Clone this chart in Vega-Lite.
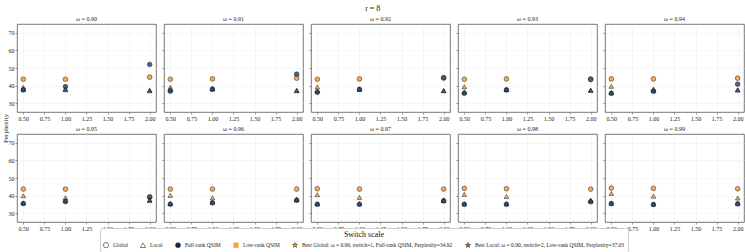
{
  "$schema": "https://vega.github.io/schema/vega-lite/v6.json",
  "padding": {"left": 1, "top": 4, "right": 2, "bottom": 1},
  "title": {"text": "r = 8", "fontSize": 8, "font": "Liberation Serif", "fontWeight": "normal", "anchor": "middle", "offset": 3, "color": "#222"},
  "config": {
    "font": "Liberation Serif",
    "view": {"continuousWidth": 139, "continuousHeight": 88, "stroke": "#555", "strokeWidth": 0.8},
    "axis": {"labelFont": "Liberation Serif", "labelFontSize": 6, "labelColor": "#222", "tickSize": 2, "tickColor": "#333", "tickWidth": 0.5, "labelPadding": 1, "domain": false, "gridColor": "#ececec", "gridWidth": 0.5, "titleFont": "Liberation Serif", "titleFontWeight": "normal", "titleColor": "#111"},
    "title": {"font": "Liberation Serif", "fontSize": 6, "fontWeight": "normal", "offset": 2, "color": "#222"},
    "legend": {"labelFont": "Liberation Serif", "titleFont": "Liberation Serif"},
    "point": {"filled": true, "size": 22, "strokeWidth": 0.5, "opacity": 0.9}
  },
  "data": {"values": [
    {"omega":"0.90","switch":0.5,"method":"Global","qsim":"Low-rank QSIM","ppl":43.6},
    {"omega":"0.90","switch":0.5,"method":"Local","qsim":"Low-rank QSIM","ppl":39.0},
    {"omega":"0.90","switch":0.5,"method":"Global","qsim":"Full-rank QSIM","ppl":37.5},
    {"omega":"0.90","switch":0.5,"method":"Local","qsim":"Full-rank QSIM","ppl":38.0},
    {"omega":"0.90","switch":1,"method":"Global","qsim":"Low-rank QSIM","ppl":43.6},
    {"omega":"0.90","switch":1,"method":"Local","qsim":"Low-rank QSIM","ppl":37.7},
    {"omega":"0.90","switch":1,"method":"Global","qsim":"Full-rank QSIM","ppl":39.4},
    {"omega":"0.90","switch":1,"method":"Local","qsim":"Full-rank QSIM","ppl":38.0},
    {"omega":"0.90","switch":2,"method":"Global","qsim":"Low-rank QSIM","ppl":44.8},
    {"omega":"0.90","switch":2,"method":"Local","qsim":"Low-rank QSIM","ppl":37.03},
    {"omega":"0.90","switch":2,"method":"Global","qsim":"Full-rank QSIM","ppl":52.0},
    {"omega":"0.90","switch":2,"method":"Local","qsim":"Full-rank QSIM","ppl":37.4},
    {"omega":"0.91","switch":0.5,"method":"Global","qsim":"Low-rank QSIM","ppl":43.6},
    {"omega":"0.91","switch":0.5,"method":"Local","qsim":"Low-rank QSIM","ppl":39.0},
    {"omega":"0.91","switch":0.5,"method":"Global","qsim":"Full-rank QSIM","ppl":36.8},
    {"omega":"0.91","switch":0.5,"method":"Local","qsim":"Full-rank QSIM","ppl":37.8},
    {"omega":"0.91","switch":1,"method":"Global","qsim":"Low-rank QSIM","ppl":43.8},
    {"omega":"0.91","switch":1,"method":"Local","qsim":"Low-rank QSIM","ppl":38.1},
    {"omega":"0.91","switch":1,"method":"Global","qsim":"Full-rank QSIM","ppl":38.0},
    {"omega":"0.91","switch":1,"method":"Local","qsim":"Full-rank QSIM","ppl":38.2},
    {"omega":"0.91","switch":2,"method":"Global","qsim":"Low-rank QSIM","ppl":44.2},
    {"omega":"0.91","switch":2,"method":"Local","qsim":"Low-rank QSIM","ppl":37.1},
    {"omega":"0.91","switch":2,"method":"Global","qsim":"Full-rank QSIM","ppl":46.5},
    {"omega":"0.91","switch":2,"method":"Local","qsim":"Full-rank QSIM","ppl":37.3},
    {"omega":"0.92","switch":0.5,"method":"Global","qsim":"Low-rank QSIM","ppl":43.6},
    {"omega":"0.92","switch":0.5,"method":"Local","qsim":"Low-rank QSIM","ppl":39.2},
    {"omega":"0.92","switch":0.5,"method":"Global","qsim":"Full-rank QSIM","ppl":36.2},
    {"omega":"0.92","switch":0.5,"method":"Local","qsim":"Full-rank QSIM","ppl":37.0},
    {"omega":"0.92","switch":1,"method":"Global","qsim":"Low-rank QSIM","ppl":43.8},
    {"omega":"0.92","switch":1,"method":"Local","qsim":"Low-rank QSIM","ppl":37.9},
    {"omega":"0.92","switch":1,"method":"Global","qsim":"Full-rank QSIM","ppl":37.9},
    {"omega":"0.92","switch":1,"method":"Local","qsim":"Full-rank QSIM","ppl":38.0},
    {"omega":"0.92","switch":2,"method":"Global","qsim":"Low-rank QSIM","ppl":44.3},
    {"omega":"0.92","switch":2,"method":"Local","qsim":"Low-rank QSIM","ppl":37.1},
    {"omega":"0.92","switch":2,"method":"Global","qsim":"Full-rank QSIM","ppl":44.5},
    {"omega":"0.92","switch":2,"method":"Local","qsim":"Full-rank QSIM","ppl":37.2},
    {"omega":"0.93","switch":0.5,"method":"Global","qsim":"Low-rank QSIM","ppl":43.6},
    {"omega":"0.93","switch":0.5,"method":"Local","qsim":"Low-rank QSIM","ppl":39.4},
    {"omega":"0.93","switch":0.5,"method":"Global","qsim":"Full-rank QSIM","ppl":35.6},
    {"omega":"0.93","switch":0.5,"method":"Local","qsim":"Full-rank QSIM","ppl":36.5},
    {"omega":"0.93","switch":1,"method":"Global","qsim":"Low-rank QSIM","ppl":43.8},
    {"omega":"0.93","switch":1,"method":"Local","qsim":"Low-rank QSIM","ppl":37.7},
    {"omega":"0.93","switch":1,"method":"Global","qsim":"Full-rank QSIM","ppl":37.6},
    {"omega":"0.93","switch":1,"method":"Local","qsim":"Full-rank QSIM","ppl":37.8},
    {"omega":"0.93","switch":2,"method":"Global","qsim":"Low-rank QSIM","ppl":43.8},
    {"omega":"0.93","switch":2,"method":"Local","qsim":"Low-rank QSIM","ppl":37.3},
    {"omega":"0.93","switch":2,"method":"Global","qsim":"Full-rank QSIM","ppl":43.4},
    {"omega":"0.93","switch":2,"method":"Local","qsim":"Full-rank QSIM","ppl":37.4},
    {"omega":"0.94","switch":0.5,"method":"Global","qsim":"Low-rank QSIM","ppl":43.8},
    {"omega":"0.94","switch":0.5,"method":"Local","qsim":"Low-rank QSIM","ppl":39.6},
    {"omega":"0.94","switch":0.5,"method":"Global","qsim":"Full-rank QSIM","ppl":35.6},
    {"omega":"0.94","switch":0.5,"method":"Local","qsim":"Full-rank QSIM","ppl":36.0},
    {"omega":"0.94","switch":1,"method":"Global","qsim":"Low-rank QSIM","ppl":43.8},
    {"omega":"0.94","switch":1,"method":"Local","qsim":"Low-rank QSIM","ppl":38.1},
    {"omega":"0.94","switch":1,"method":"Global","qsim":"Full-rank QSIM","ppl":36.8},
    {"omega":"0.94","switch":1,"method":"Local","qsim":"Full-rank QSIM","ppl":37.2},
    {"omega":"0.94","switch":2,"method":"Global","qsim":"Low-rank QSIM","ppl":44.2},
    {"omega":"0.94","switch":2,"method":"Local","qsim":"Low-rank QSIM","ppl":37.5},
    {"omega":"0.94","switch":2,"method":"Global","qsim":"Full-rank QSIM","ppl":40.8},
    {"omega":"0.94","switch":2,"method":"Local","qsim":"Full-rank QSIM","ppl":37.6},
    {"omega":"0.95","switch":0.5,"method":"Global","qsim":"Low-rank QSIM","ppl":43.7},
    {"omega":"0.95","switch":0.5,"method":"Local","qsim":"Low-rank QSIM","ppl":39.9},
    {"omega":"0.95","switch":0.5,"method":"Global","qsim":"Full-rank QSIM","ppl":35.5},
    {"omega":"0.95","switch":0.5,"method":"Local","qsim":"Full-rank QSIM","ppl":35.8},
    {"omega":"0.95","switch":1,"method":"Global","qsim":"Low-rank QSIM","ppl":43.7},
    {"omega":"0.95","switch":1,"method":"Local","qsim":"Low-rank QSIM","ppl":38.8},
    {"omega":"0.95","switch":1,"method":"Global","qsim":"Full-rank QSIM","ppl":36.6},
    {"omega":"0.95","switch":1,"method":"Local","qsim":"Full-rank QSIM","ppl":37.2},
    {"omega":"0.95","switch":2,"method":"Global","qsim":"Low-rank QSIM","ppl":39.0},
    {"omega":"0.95","switch":2,"method":"Local","qsim":"Low-rank QSIM","ppl":37.2},
    {"omega":"0.95","switch":2,"method":"Global","qsim":"Full-rank QSIM","ppl":39.3},
    {"omega":"0.95","switch":2,"method":"Local","qsim":"Full-rank QSIM","ppl":37.5},
    {"omega":"0.96","switch":0.5,"method":"Global","qsim":"Low-rank QSIM","ppl":43.7},
    {"omega":"0.96","switch":0.5,"method":"Local","qsim":"Low-rank QSIM","ppl":40.1},
    {"omega":"0.96","switch":0.5,"method":"Global","qsim":"Full-rank QSIM","ppl":35.1},
    {"omega":"0.96","switch":0.5,"method":"Local","qsim":"Full-rank QSIM","ppl":35.5},
    {"omega":"0.96","switch":1,"method":"Global","qsim":"Low-rank QSIM","ppl":43.7},
    {"omega":"0.96","switch":1,"method":"Local","qsim":"Low-rank QSIM","ppl":38.8},
    {"omega":"0.96","switch":1,"method":"Global","qsim":"Full-rank QSIM","ppl":35.9},
    {"omega":"0.96","switch":1,"method":"Local","qsim":"Full-rank QSIM","ppl":36.3},
    {"omega":"0.96","switch":2,"method":"Global","qsim":"Low-rank QSIM","ppl":43.7},
    {"omega":"0.96","switch":2,"method":"Local","qsim":"Low-rank QSIM","ppl":37.6},
    {"omega":"0.96","switch":2,"method":"Global","qsim":"Full-rank QSIM","ppl":37.4},
    {"omega":"0.96","switch":2,"method":"Local","qsim":"Full-rank QSIM","ppl":37.8},
    {"omega":"0.97","switch":0.5,"method":"Global","qsim":"Low-rank QSIM","ppl":43.9},
    {"omega":"0.97","switch":0.5,"method":"Local","qsim":"Low-rank QSIM","ppl":40.5},
    {"omega":"0.97","switch":0.5,"method":"Global","qsim":"Full-rank QSIM","ppl":35.1},
    {"omega":"0.97","switch":0.5,"method":"Local","qsim":"Full-rank QSIM","ppl":35.3},
    {"omega":"0.97","switch":1,"method":"Global","qsim":"Low-rank QSIM","ppl":43.7},
    {"omega":"0.97","switch":1,"method":"Local","qsim":"Low-rank QSIM","ppl":39.0},
    {"omega":"0.97","switch":1,"method":"Global","qsim":"Full-rank QSIM","ppl":35.1},
    {"omega":"0.97","switch":1,"method":"Local","qsim":"Full-rank QSIM","ppl":35.4},
    {"omega":"0.97","switch":2,"method":"Global","qsim":"Low-rank QSIM","ppl":43.7},
    {"omega":"0.97","switch":2,"method":"Local","qsim":"Low-rank QSIM","ppl":37.6},
    {"omega":"0.97","switch":2,"method":"Global","qsim":"Full-rank QSIM","ppl":37.0},
    {"omega":"0.97","switch":2,"method":"Local","qsim":"Full-rank QSIM","ppl":37.2},
    {"omega":"0.98","switch":0.5,"method":"Global","qsim":"Low-rank QSIM","ppl":44.1},
    {"omega":"0.98","switch":0.5,"method":"Local","qsim":"Low-rank QSIM","ppl":40.7},
    {"omega":"0.98","switch":0.5,"method":"Global","qsim":"Full-rank QSIM","ppl":35.1},
    {"omega":"0.98","switch":0.5,"method":"Local","qsim":"Full-rank QSIM","ppl":35.3},
    {"omega":"0.98","switch":1,"method":"Global","qsim":"Low-rank QSIM","ppl":43.9},
    {"omega":"0.98","switch":1,"method":"Local","qsim":"Low-rank QSIM","ppl":39.5},
    {"omega":"0.98","switch":1,"method":"Global","qsim":"Full-rank QSIM","ppl":35.1},
    {"omega":"0.98","switch":1,"method":"Local","qsim":"Full-rank QSIM","ppl":35.3},
    {"omega":"0.98","switch":2,"method":"Global","qsim":"Low-rank QSIM","ppl":43.7},
    {"omega":"0.98","switch":2,"method":"Local","qsim":"Low-rank QSIM","ppl":37.4},
    {"omega":"0.98","switch":2,"method":"Global","qsim":"Full-rank QSIM","ppl":36.5},
    {"omega":"0.98","switch":2,"method":"Local","qsim":"Full-rank QSIM","ppl":37.0},
    {"omega":"0.99","switch":0.5,"method":"Global","qsim":"Low-rank QSIM","ppl":44.3},
    {"omega":"0.99","switch":0.5,"method":"Local","qsim":"Low-rank QSIM","ppl":41.2},
    {"omega":"0.99","switch":0.5,"method":"Global","qsim":"Full-rank QSIM","ppl":35.5},
    {"omega":"0.99","switch":0.5,"method":"Local","qsim":"Full-rank QSIM","ppl":35.6},
    {"omega":"0.99","switch":1,"method":"Global","qsim":"Low-rank QSIM","ppl":44.1},
    {"omega":"0.99","switch":1,"method":"Local","qsim":"Low-rank QSIM","ppl":39.7},
    {"omega":"0.99","switch":1,"method":"Global","qsim":"Full-rank QSIM","ppl":34.92},
    {"omega":"0.99","switch":1,"method":"Local","qsim":"Full-rank QSIM","ppl":35.2},
    {"omega":"0.99","switch":2,"method":"Global","qsim":"Low-rank QSIM","ppl":43.9},
    {"omega":"0.99","switch":2,"method":"Local","qsim":"Low-rank QSIM","ppl":38.6},
    {"omega":"0.99","switch":2,"method":"Global","qsim":"Full-rank QSIM","ppl":35.3},
    {"omega":"0.99","switch":2,"method":"Local","qsim":"Full-rank QSIM","ppl":35.6}
  ]},
  "columns": 5,
  "spacing": {"row": 22, "column": 8},
  "bounds": "flush",
  "concat": [
    {"title": "ω = 0.90", "transform": [{"filter": "datum.omega == '0.90'"}, {"calculate": "datum.method + '|' + datum.qsim", "as": "key"}], "mark": "point",
     "encoding": {
       "x": {"field": "switch", "type": "quantitative", "scale": {"domain": [0.425, 2.075], "nice": false, "zero": false}, "axis": {"values": [0.5, 0.75, 1, 1.25, 1.5, 1.75, 2], "format": ".2f", "title": null}},
       "y": {"field": "ppl", "type": "quantitative", "scale": {"domain": [25, 75], "nice": false, "zero": false}, "axis": {"values": [30, 40, 50, 60, 70], "title": "Perplexity", "titleFontSize": 7, "titleX": -8.5, "titleY": 104, "titleAlign": "center", "titleAngle": -90, "titleBaseline": "bottom"}},
       "shape": {"field": "key", "type": "nominal",
         "scale": {"domain": ["Global", "Local", "Full-rank QSIM", "Low-rank QSIM", "Best Global: ω = 0.99, switch=1, Full-rank QSIM, Perplexity=34.92", "Best Local: ω = 0.90, switch=2, Low-rank QSIM, Perplexity=37.03", "Global|Full-rank QSIM", "Global|Low-rank QSIM", "Local|Full-rank QSIM", "Local|Low-rank QSIM"],
           "range": ["circle", "triangle-up", "circle", "square", "M0,-1L0.2245,-0.309L0.9511,-0.309L0.3633,0.118L0.5878,0.809L0,0.382L-0.5878,0.809L-0.3633,0.118L-0.9511,-0.309L-0.2245,-0.309Z", "M0,-1L0.2245,-0.309L0.9511,-0.309L0.3633,0.118L0.5878,0.809L0,0.382L-0.5878,0.809L-0.3633,0.118L-0.9511,-0.309L-0.2245,-0.309Z", "circle", "circle", "triangle-up", "triangle-up"]},
         "legend": {"title": "Switch scale", "titleOrient": "top", "titleAnchor": "middle", "titleFontSize": 8, "titleFontWeight": "normal", "titleColor": "#111", "titlePadding": 3, "values": ["Global", "Local", "Full-rank QSIM", "Low-rank QSIM", "Best Global: ω = 0.99, switch=1, Full-rank QSIM, Perplexity=34.92", "Best Local: ω = 0.90, switch=2, Low-rank QSIM, Perplexity=37.03"], "orient": "none", "legendX": 83, "legendY": 204, "direction": "horizontal", "columns": 6, "columnPadding": 11, "labelFontSize": 5.5, "labelOffset": 4, "symbolSize": 28, "symbolStrokeWidth": 0.6, "symbolOpacity": 1, "padding": 3, "strokeColor": "#cccccc", "fillColor": "white", "cornerRadius": 2, "labelColor": "#222"}},
       "fill": {"field": "key", "type": "nominal",
         "scale": {"domain": ["Global", "Local", "Full-rank QSIM", "Low-rank QSIM", "Best Global: ω = 0.99, switch=1, Full-rank QSIM, Perplexity=34.92", "Best Local: ω = 0.90, switch=2, Low-rank QSIM, Perplexity=37.03", "Global|Full-rank QSIM", "Global|Low-rank QSIM", "Local|Full-rank QSIM", "Local|Low-rank QSIM"],
           "range": ["#ffffff", "#ffffff", "#0d2a4e", "#f5a640", "#f6d80a", "#cf7a22", "#3a557c", "#f5a640", "#3a557c", "#f5a640"]}},
       "stroke": {"field": "key", "type": "nominal",
         "scale": {"domain": ["Global", "Local", "Full-rank QSIM", "Low-rank QSIM", "Best Global: ω = 0.99, switch=1, Full-rank QSIM, Perplexity=34.92", "Best Local: ω = 0.90, switch=2, Low-rank QSIM, Perplexity=37.03", "Global|Full-rank QSIM", "Global|Low-rank QSIM", "Local|Full-rank QSIM", "Local|Low-rank QSIM"],
           "range": ["#000000", "#000000", "transparent", "transparent", "#000000", "#000000", "#000000", "#000000", "#000000", "#000000"]}}
     }},
    {"title": "ω = 0.91", "transform": [{"filter": "datum.omega == '0.91'"}, {"calculate": "datum.method + '|' + datum.qsim", "as": "key"}], "mark": "point",
     "encoding": {
       "x": {"field": "switch", "type": "quantitative", "scale": {"domain": [0.425, 2.075], "nice": false, "zero": false}, "axis": {"values": [0.5, 0.75, 1, 1.25, 1.5, 1.75, 2], "format": ".2f", "title": null}},
       "y": {"field": "ppl", "type": "quantitative", "scale": {"domain": [25, 75], "nice": false, "zero": false}, "axis": {"values": [30, 40, 50, 60, 70], "title": null, "labels": false}},
       "shape": {"field": "key", "type": "nominal", "legend": null},
       "fill": {"field": "key", "type": "nominal", "legend": null},
       "stroke": {"field": "key", "type": "nominal", "legend": null}
     }},
    {"title": "ω = 0.92", "transform": [{"filter": "datum.omega == '0.92'"}, {"calculate": "datum.method + '|' + datum.qsim", "as": "key"}], "mark": "point",
     "encoding": {
       "x": {"field": "switch", "type": "quantitative", "scale": {"domain": [0.425, 2.075], "nice": false, "zero": false}, "axis": {"values": [0.5, 0.75, 1, 1.25, 1.5, 1.75, 2], "format": ".2f", "title": null}},
       "y": {"field": "ppl", "type": "quantitative", "scale": {"domain": [25, 75], "nice": false, "zero": false}, "axis": {"values": [30, 40, 50, 60, 70], "title": null, "labels": false}},
       "shape": {"field": "key", "type": "nominal", "legend": null},
       "fill": {"field": "key", "type": "nominal", "legend": null},
       "stroke": {"field": "key", "type": "nominal", "legend": null}
     }},
    {"title": "ω = 0.93", "transform": [{"filter": "datum.omega == '0.93'"}, {"calculate": "datum.method + '|' + datum.qsim", "as": "key"}], "mark": "point",
     "encoding": {
       "x": {"field": "switch", "type": "quantitative", "scale": {"domain": [0.425, 2.075], "nice": false, "zero": false}, "axis": {"values": [0.5, 0.75, 1, 1.25, 1.5, 1.75, 2], "format": ".2f", "title": null}},
       "y": {"field": "ppl", "type": "quantitative", "scale": {"domain": [25, 75], "nice": false, "zero": false}, "axis": {"values": [30, 40, 50, 60, 70], "title": null, "labels": false}},
       "shape": {"field": "key", "type": "nominal", "legend": null},
       "fill": {"field": "key", "type": "nominal", "legend": null},
       "stroke": {"field": "key", "type": "nominal", "legend": null}
     }},
    {"title": "ω = 0.94", "transform": [{"filter": "datum.omega == '0.94'"}, {"calculate": "datum.method + '|' + datum.qsim", "as": "key"}], "mark": "point",
     "encoding": {
       "x": {"field": "switch", "type": "quantitative", "scale": {"domain": [0.425, 2.075], "nice": false, "zero": false}, "axis": {"values": [0.5, 0.75, 1, 1.25, 1.5, 1.75, 2], "format": ".2f", "title": null}},
       "y": {"field": "ppl", "type": "quantitative", "scale": {"domain": [25, 75], "nice": false, "zero": false}, "axis": {"values": [30, 40, 50, 60, 70], "title": null, "labels": false}},
       "shape": {"field": "key", "type": "nominal", "legend": null},
       "fill": {"field": "key", "type": "nominal", "legend": null},
       "stroke": {"field": "key", "type": "nominal", "legend": null}
     }},
    {"title": "ω = 0.95", "transform": [{"filter": "datum.omega == '0.95'"}, {"calculate": "datum.method + '|' + datum.qsim", "as": "key"}], "mark": "point",
     "encoding": {
       "x": {"field": "switch", "type": "quantitative", "scale": {"domain": [0.425, 2.075], "nice": false, "zero": false}, "axis": {"values": [0.5, 0.75, 1, 1.25, 1.5, 1.75, 2], "format": ".2f", "title": null}},
       "y": {"field": "ppl", "type": "quantitative", "scale": {"domain": [25, 75], "nice": false, "zero": false}, "axis": {"values": [30, 40, 50, 60, 70], "title": null}},
       "shape": {"field": "key", "type": "nominal", "legend": null},
       "fill": {"field": "key", "type": "nominal", "legend": null},
       "stroke": {"field": "key", "type": "nominal", "legend": null}
     }},
    {"title": "ω = 0.96", "transform": [{"filter": "datum.omega == '0.96'"}, {"calculate": "datum.method + '|' + datum.qsim", "as": "key"}], "mark": "point",
     "encoding": {
       "x": {"field": "switch", "type": "quantitative", "scale": {"domain": [0.425, 2.075], "nice": false, "zero": false}, "axis": {"values": [0.5, 0.75, 1, 1.25, 1.5, 1.75, 2], "format": ".2f", "title": null}},
       "y": {"field": "ppl", "type": "quantitative", "scale": {"domain": [25, 75], "nice": false, "zero": false}, "axis": {"values": [30, 40, 50, 60, 70], "title": null, "labels": false}},
       "shape": {"field": "key", "type": "nominal", "legend": null},
       "fill": {"field": "key", "type": "nominal", "legend": null},
       "stroke": {"field": "key", "type": "nominal", "legend": null}
     }},
    {"title": "ω = 0.97", "transform": [{"filter": "datum.omega == '0.97'"}, {"calculate": "datum.method + '|' + datum.qsim", "as": "key"}], "mark": "point",
     "encoding": {
       "x": {"field": "switch", "type": "quantitative", "scale": {"domain": [0.425, 2.075], "nice": false, "zero": false}, "axis": {"values": [0.5, 0.75, 1, 1.25, 1.5, 1.75, 2], "format": ".2f", "title": null}},
       "y": {"field": "ppl", "type": "quantitative", "scale": {"domain": [25, 75], "nice": false, "zero": false}, "axis": {"values": [30, 40, 50, 60, 70], "title": null, "labels": false}},
       "shape": {"field": "key", "type": "nominal", "legend": null},
       "fill": {"field": "key", "type": "nominal", "legend": null},
       "stroke": {"field": "key", "type": "nominal", "legend": null}
     }},
    {"title": "ω = 0.98", "transform": [{"filter": "datum.omega == '0.98'"}, {"calculate": "datum.method + '|' + datum.qsim", "as": "key"}], "mark": "point",
     "encoding": {
       "x": {"field": "switch", "type": "quantitative", "scale": {"domain": [0.425, 2.075], "nice": false, "zero": false}, "axis": {"values": [0.5, 0.75, 1, 1.25, 1.5, 1.75, 2], "format": ".2f", "title": null}},
       "y": {"field": "ppl", "type": "quantitative", "scale": {"domain": [25, 75], "nice": false, "zero": false}, "axis": {"values": [30, 40, 50, 60, 70], "title": null, "labels": false}},
       "shape": {"field": "key", "type": "nominal", "legend": null},
       "fill": {"field": "key", "type": "nominal", "legend": null},
       "stroke": {"field": "key", "type": "nominal", "legend": null}
     }},
    {"title": "ω = 0.99", "transform": [{"filter": "datum.omega == '0.99'"}, {"calculate": "datum.method + '|' + datum.qsim", "as": "key"}], "mark": "point",
     "encoding": {
       "x": {"field": "switch", "type": "quantitative", "scale": {"domain": [0.425, 2.075], "nice": false, "zero": false}, "axis": {"values": [0.5, 0.75, 1, 1.25, 1.5, 1.75, 2], "format": ".2f", "title": null}},
       "y": {"field": "ppl", "type": "quantitative", "scale": {"domain": [25, 75], "nice": false, "zero": false}, "axis": {"values": [30, 40, 50, 60, 70], "title": null, "labels": false}},
       "shape": {"field": "key", "type": "nominal", "legend": null},
       "fill": {"field": "key", "type": "nominal", "legend": null},
       "stroke": {"field": "key", "type": "nominal", "legend": null}
     }}
  ]
}
